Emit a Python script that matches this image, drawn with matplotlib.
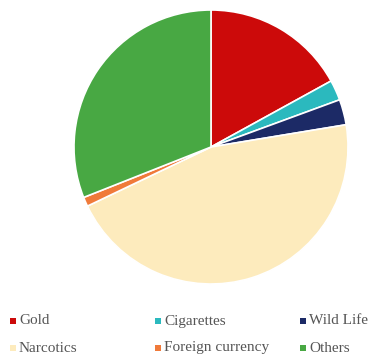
import matplotlib.pyplot as plt
from matplotlib.patches import Rectangle

plt.rcParams['font.family'] = ['Liberation Serif', 'DejaVu Serif']

labels = ['Gold', 'Cigarettes', 'Wild Life', 'Narcotics', 'Foreign currency', 'Others']
values = [17.0, 2.4, 3.0, 45.5, 1.1, 31.0]
colors = ['#CC0A0A', '#2BB9BE', '#1C2A66', '#FDEBBD', '#F07A3A', '#48A843']

fig = plt.figure(figsize=(3.82, 3.56), dpi=100)
ax = fig.add_axes([74/382, 72/356, 274/382, 274/356])
ax.pie(values, colors=colors, startangle=90, counterclock=False,
       wedgeprops=dict(edgecolor='white', linewidth=1.2))
ax.set_aspect('equal')
ax.set_xlim(-1.0, 1.0)
ax.set_ylim(-1.0, 1.0)

# legend laid out as in the source: 3 columns, 2 rows
col_x = [10, 155, 300]
row_y = [321, 348]
for i, (lab, col) in enumerate(zip(labels, colors)):
    x = col_x[i % 3]
    y = row_y[i // 3]
    fig.patches.append(Rectangle((x / 382, (356 - y - 3) / 356), 6 / 382, 6 / 356,
                                 transform=fig.transFigure, facecolor=col, edgecolor='none'))
    fig.text((x + 9) / 382, (356 - y) / 356, lab,
             fontsize=11, color='#555555', va='center', ha='left')

fig.savefig('out.png', dpi=100)
